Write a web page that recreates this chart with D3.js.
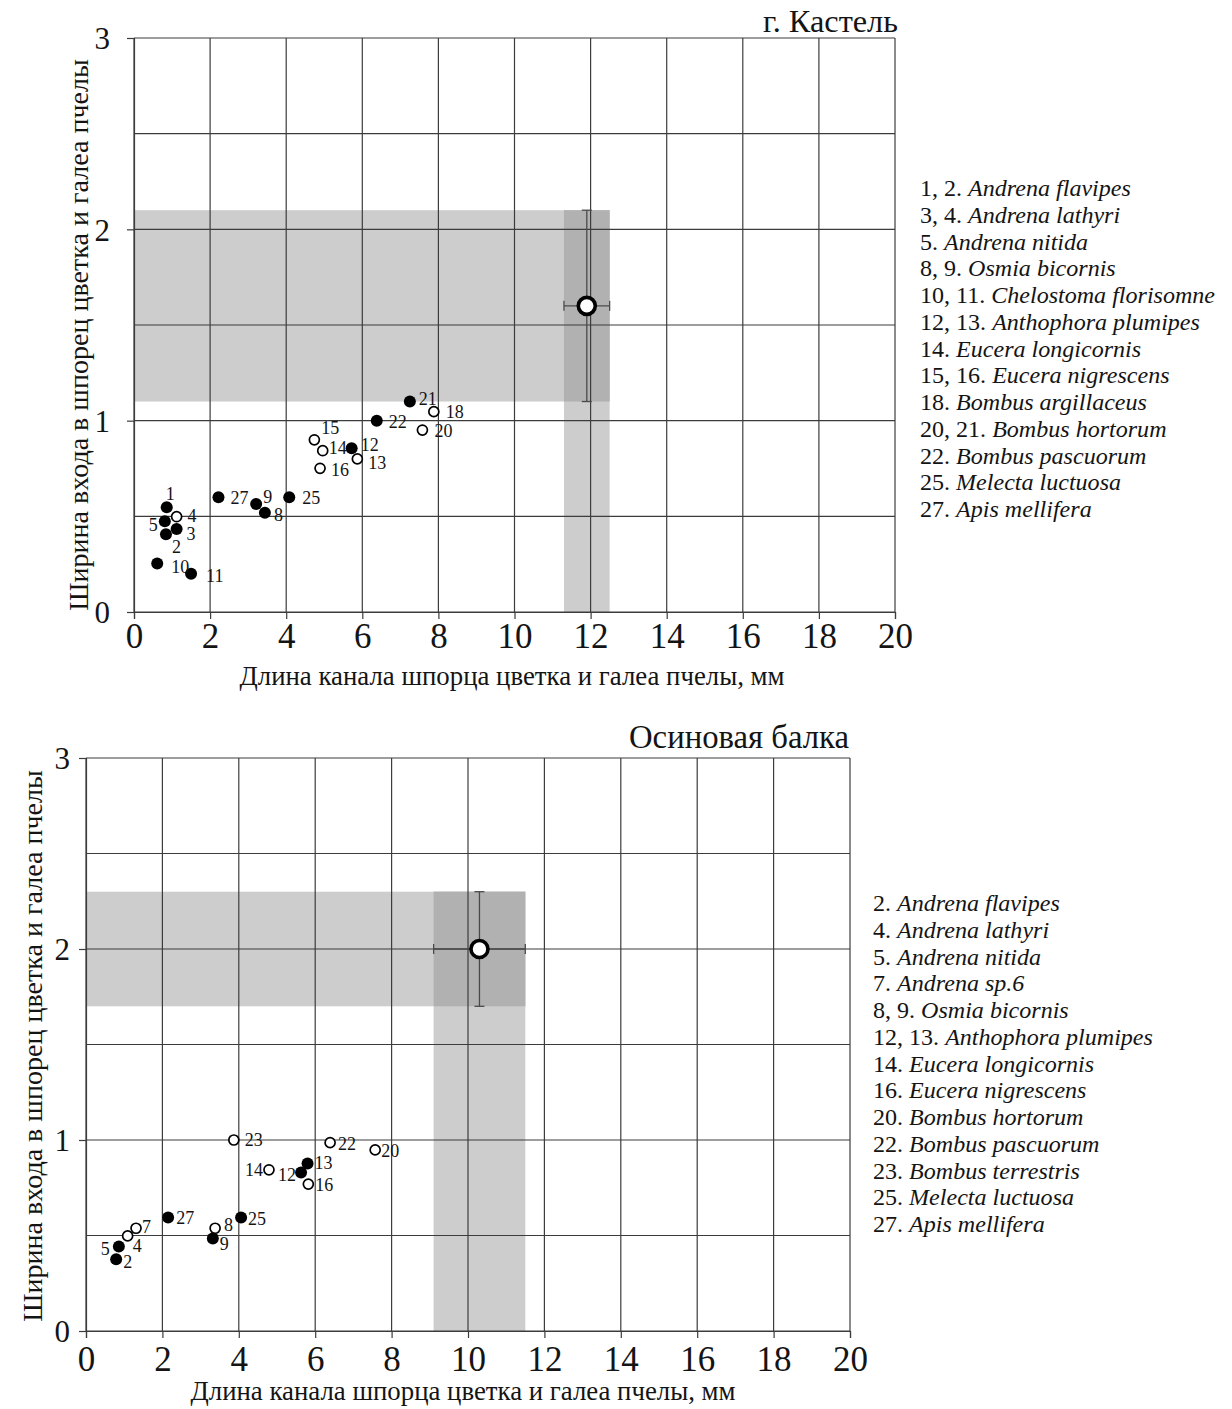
<!DOCTYPE html>
<html><head><meta charset="utf-8">
<script src="https://cdn.jsdelivr.net/npm/d3@7"></script>
<style>
body{margin:0;background:#fff}
svg{display:block}
text{font-family:"Liberation Serif","Times New Roman",serif;fill:#141414}
</style>
</head><body>
<svg id="chart" width="1232" height="1409"></svg>
<script>
// ---------- shared axes ----------
const xTickValues = [0,2,4,6,8,10,12,14,16,18,20];
const yTickValues = [0,1,2,3];
const yGridValues = [0,0.5,1,1.5,2,2.5,3];
const xAxisTitle = "Длина канала шпорца цветка и галеа пчелы, мм";
const yAxisTitle = "Ширина входа в шпорец цветка и галеа пчелы";

// ---------- panel 1: г. Кастель ----------
const kastelTitle = "г. Кастель";
const kastelIds   = [1, 2, 3, 5, 8, 9, 10, 11, 12, 21, 22, 25, 27, 4, 13, 14, 15, 16, 18, 20];
const kastelX     = [0.86, 0.84, 1.12, 0.81, 3.44, 3.21, 0.61, 1.50, 5.72, 7.25, 6.38, 4.08, 2.22, 1.12, 5.87, 4.96, 4.74, 4.89, 7.88, 7.58];
const kastelY     = [0.547, 0.406, 0.434, 0.474, 0.519, 0.565, 0.254, 0.200, 0.856, 1.100, 1.000, 0.600, 0.600, 0.498, 0.800, 0.843, 0.900, 0.751, 1.047, 0.951];
const kastelOpen  = [false, false, false, false, false, false, false, false, false, false, false, false, false, true, true, true, true, true, true, true];
const kastelFlowerX = 11.9, kastelFlowerY = 1.6;
const kastelFlowerXRange = [11.3, 12.5];
const kastelFlowerYRange = [1.1, 2.1];
const kastelLegendNums  = ["1, 2.", "3, 4.", "5.", "8, 9.", "10, 11.", "12, 13.", "14.", "15, 16.", "18.", "20, 21.", "22.", "25.", "27."];
const kastelLegendNames = ["Andrena flavipes", "Andrena lathyri", "Andrena nitida", "Osmia bicornis", "Chelostoma florisomne", "Anthophora plumipes", "Eucera longicornis", "Eucera nigrescens", "Bombus argillaceus", "Bombus hortorum", "Bombus pascuorum", "Melecta luctuosa", "Apis mellifera"];

// ---------- panel 2: Осиновая балка ----------
const osinTitle = "Осиновая балка";
const osinIds   = [23, 22, 20, 14, 16, 8, 7, 4, 12, 13, 27, 25, 9, 5, 2];
const osinX     = [3.87, 6.39, 7.57, 4.79, 5.82, 3.38, 1.31, 1.09, 5.63, 5.80, 2.15, 4.06, 3.32, 0.86, 0.79];
const osinY     = [1.000, 0.986, 0.948, 0.844, 0.769, 0.538, 0.538, 0.498, 0.830, 0.877, 0.594, 0.594, 0.484, 0.442, 0.376];
const osinOpen  = [true, true, true, true, true, true, true, true, false, false, false, false, false, false, false];
const osinFlowerX = 10.3, osinFlowerY = 2.0;
const osinFlowerXRange = [9.1, 11.5];
const osinFlowerYRange = [1.7, 2.3];
const osinLegendNums  = ["2.", "4.", "5.", "7.", "8, 9.", "12, 13.", "14.", "16.", "20.", "22.", "23.", "25.", "27."];
const osinLegendNames = ["Andrena flavipes", "Andrena lathyri", "Andrena nitida", "Andrena sp.6", "Osmia bicornis", "Anthophora plumipes", "Eucera longicornis", "Eucera nigrescens", "Bombus hortorum", "Bombus pascuorum", "Bombus terrestris", "Melecta luctuosa", "Apis mellifera"];

// ---------- label placement (offset of number label from its point, px) ----------
const kastelLabelOffsets = {
  1:[-1,-14,'start'], 2:[6,12,'start'], 3:[10,5,'start'], 5:[-7,3,'end'], 8:[9,2,'start'],
  9:[7,-7,'start'], 10:[14,3,'start'], 11:[15,2,'start'], 12:[9,-4,'start'], 21:[9,-3,'start'],
  22:[12,1,'start'], 25:[13,0,'start'], 27:[12,0,'start'], 4:[11,-1,'start'], 13:[11,4,'start'],
  14:[6,-3,'start'], 15:[7,-12,'start'], 16:[11,1,'start'], 18:[12,0,'start'], 20:[12,1,'start']
};
const osinLabelOffsets = {
  23:[11,0,'start'], 22:[8,1,'start'], 20:[6,1,'start'], 14:[-6,0,'end'], 16:[7,1,'start'],
  8:[9,-4,'start'], 7:[6,-2,'start'], 4:[5,10,'start'], 12:[-5,2,'end'], 13:[7,-1,'start'],
  27:[8,0,'start'], 25:[7,1,'start'], 9:[7,5,'start'], 5:[-9,2,'end'], 2:[7,3,'start']
};

const svg = d3.select("#chart");

function fitFont(sel, target, base) {
  sel.style("font-size", base + "px");
  const w = sel.node().getComputedTextLength();
  sel.style("font-size", (base * target / w).toFixed(2) + "px");
}

function drawPanel(p) {
  const g = svg.append("g");
  const x = d3.scaleLinear().domain([0, 20]).range([p.left, p.right]);
  const y = d3.scaleLinear().domain([0, 3]).range([p.bottom, p.top]);

  // shaded flower ranges
  const light = "#cdcdcd", dark = "#b1b1b1";
  g.append("rect").attr("x", x(0)).attr("y", y(p.fyr[1]))
    .attr("width", x(p.fxr[1]) - x(0)).attr("height", y(p.fyr[0]) - y(p.fyr[1])).attr("fill", light);
  g.append("rect").attr("x", x(p.fxr[0])).attr("y", y(p.fyr[1]))
    .attr("width", x(p.fxr[1]) - x(p.fxr[0])).attr("height", y(0) - y(p.fyr[1])).attr("fill", light);
  g.append("rect").attr("x", x(p.fxr[0])).attr("y", y(p.fyr[1]))
    .attr("width", x(p.fxr[1]) - x(p.fxr[0])).attr("height", y(p.fyr[0]) - y(p.fyr[1])).attr("fill", dark);

  // grid
  const gridColor = "#3c3c3c";
  g.append("g").selectAll("line").data(yGridValues).join("line")
    .attr("x1", x(0)).attr("x2", x(20)).attr("y1", d => y(d)).attr("y2", d => y(d))
    .attr("stroke", gridColor).attr("stroke-width", 1.2);
  g.append("g").selectAll("line").data(xTickValues).join("line")
    .attr("y1", y(0)).attr("y2", y(3)).attr("x1", d => x(d)).attr("x2", d => x(d))
    .attr("stroke", gridColor).attr("stroke-width", 1.2);

  // axes with ticks
  const xAxis = d3.axisBottom(x).tickValues(xTickValues).tickSize(7).tickFormat(d3.format("d"));
  const gx = g.append("g").attr("transform", `translate(0,${y(0)})`).call(xAxis);
  gx.select(".domain").attr("stroke", gridColor).attr("stroke-width", 1.2);
  gx.selectAll(".tick line").attr("stroke", gridColor).attr("stroke-width", 1.2);
  gx.selectAll(".tick text").attr("y", p.xTickBaseline - y(0)).attr("dy", 0)
    .style("font-size", "35px").style("font-family", '"Liberation Serif",serif').attr("fill", "#141414");

  const yAxis = d3.axisLeft(y).tickValues(yTickValues).tickSize(7).tickFormat(d3.format("d"));
  const gy = g.append("g").attr("transform", `translate(${x(0)},0)`).call(yAxis);
  gy.select(".domain").attr("stroke", gridColor).attr("stroke-width", 1.2);
  gy.selectAll(".tick line").attr("stroke", gridColor).attr("stroke-width", 1.2);
  gy.selectAll(".tick text").attr("x", -p.yTickGap).attr("dy", "0.35em")
    .style("font-size", "31px").style("font-family", '"Liberation Serif",serif').attr("fill", "#141414");

  // error bars for flower mean
  const ebColor = "#4a4a4a", cap = 5;
  const eb = g.append("g").attr("stroke", ebColor).attr("stroke-width", 1.3);
  eb.append("line").attr("x1", x(p.fx)).attr("x2", x(p.fx)).attr("y1", y(p.fyr[0])).attr("y2", y(p.fyr[1]));
  eb.append("line").attr("x1", x(p.fx) - cap).attr("x2", x(p.fx) + cap).attr("y1", y(p.fyr[0])).attr("y2", y(p.fyr[0]));
  eb.append("line").attr("x1", x(p.fx) - cap).attr("x2", x(p.fx) + cap).attr("y1", y(p.fyr[1])).attr("y2", y(p.fyr[1]));
  eb.append("line").attr("x1", x(p.fxr[0])).attr("x2", x(p.fxr[1])).attr("y1", y(p.fy)).attr("y2", y(p.fy));
  eb.append("line").attr("x1", x(p.fxr[0])).attr("x2", x(p.fxr[0])).attr("y1", y(p.fy) - cap).attr("y2", y(p.fy) + cap);
  eb.append("line").attr("x1", x(p.fxr[1])).attr("x2", x(p.fxr[1])).attr("y1", y(p.fy) - cap).attr("y2", y(p.fy) + cap);
  g.append("circle").attr("cx", x(p.fx)).attr("cy", y(p.fy)).attr("r", 8.5)
    .attr("fill", "#fff").attr("stroke", "#000").attr("stroke-width", 3.6);

  // bee points
  const pts = p.ids.map((id, i) => ({id, x: p.xs[i], y: p.ys[i], open: p.open[i]}));
  g.append("g").selectAll("circle").data(pts).join("circle")
    .attr("cx", d => x(d.x)).attr("cy", d => y(d.y))
    .attr("r", d => d.open ? 5 : 6)
    .attr("fill", d => d.open ? "#fff" : "#000")
    .attr("stroke", "#000").attr("stroke-width", d => d.open ? 1.7 : 0);
  g.append("g").selectAll("text").data(pts).join("text")
    .attr("x", d => x(d.x) + p.offs[d.id][0]).attr("y", d => y(d.y) + p.offs[d.id][1])
    .attr("dy", "0.35em").attr("text-anchor", d => p.offs[d.id][2])
    .style("font-size", "18px").text(d => d.id);

  // titles
  const t = g.append("text").attr("x", p.titleRight).attr("y", p.titleBaseline)
    .attr("text-anchor", "end").text(p.title);
  fitFont(t, p.titleWidth, 26);

  const xt = g.append("text").attr("x", p.xTitleCenter).attr("y", p.xTitleBaseline)
    .attr("text-anchor", "middle").text(xAxisTitle);
  fitFont(xt, 545, 24);

  const yt = g.append("text").attr("text-anchor", "middle")
    .attr("transform", `translate(${p.yTitleX},${p.yTitleCenter}) rotate(-90)`)
    .attr("dy", "0.35em").text(yAxisTitle);
  fitFont(yt, 552, 24);

  // legend
  const lg = g.append("g");
  const lines = lg.selectAll("text").data(p.legendNums).join("text")
    .attr("x", p.legendX).attr("y", (d, i) => p.legendY + i * 26.75);
  lines.append("tspan").text(d => d + " ");
  lines.append("tspan").style("font-style", "italic").text((d, i) => p.legendNames[i]);
  lines.style("font-size", "21px");
  const refIdx = p.legendNums.indexOf("12, 13.");
  const w = lines.nodes()[refIdx].getComputedTextLength();
  lines.style("font-size", (21 * 280 / w).toFixed(2) + "px");
}

drawPanel({
  left: 134, right: 895, top: 38, bottom: 612,
  xTickBaseline: 648, yTickGap: 24,
  ids: kastelIds, xs: kastelX, ys: kastelY, open: kastelOpen, offs: kastelLabelOffsets,
  fx: kastelFlowerX, fy: kastelFlowerY, fxr: kastelFlowerXRange, fyr: kastelFlowerYRange,
  title: kastelTitle, titleRight: 898, titleBaseline: 32, titleWidth: 135,
  xTitleCenter: 512, xTitleBaseline: 685,
  yTitleX: 78, yTitleCenter: 335,
  legendNums: kastelLegendNums, legendNames: kastelLegendNames, legendX: 920, legendY: 196
});

drawPanel({
  left: 86, right: 850, top: 758, bottom: 1331,
  xTickBaseline: 1371, yTickGap: 16,
  ids: osinIds, xs: osinX, ys: osinY, open: osinOpen, offs: osinLabelOffsets,
  fx: osinFlowerX, fy: osinFlowerY, fxr: osinFlowerXRange, fyr: osinFlowerYRange,
  title: osinTitle, titleRight: 849, titleBaseline: 748, titleWidth: 220,
  xTitleCenter: 463, xTitleBaseline: 1400,
  yTitleX: 32, yTitleCenter: 1046,
  legendNums: osinLegendNums, legendNames: osinLegendNames, legendX: 873, legendY: 911
});
</script>
</body></html>
